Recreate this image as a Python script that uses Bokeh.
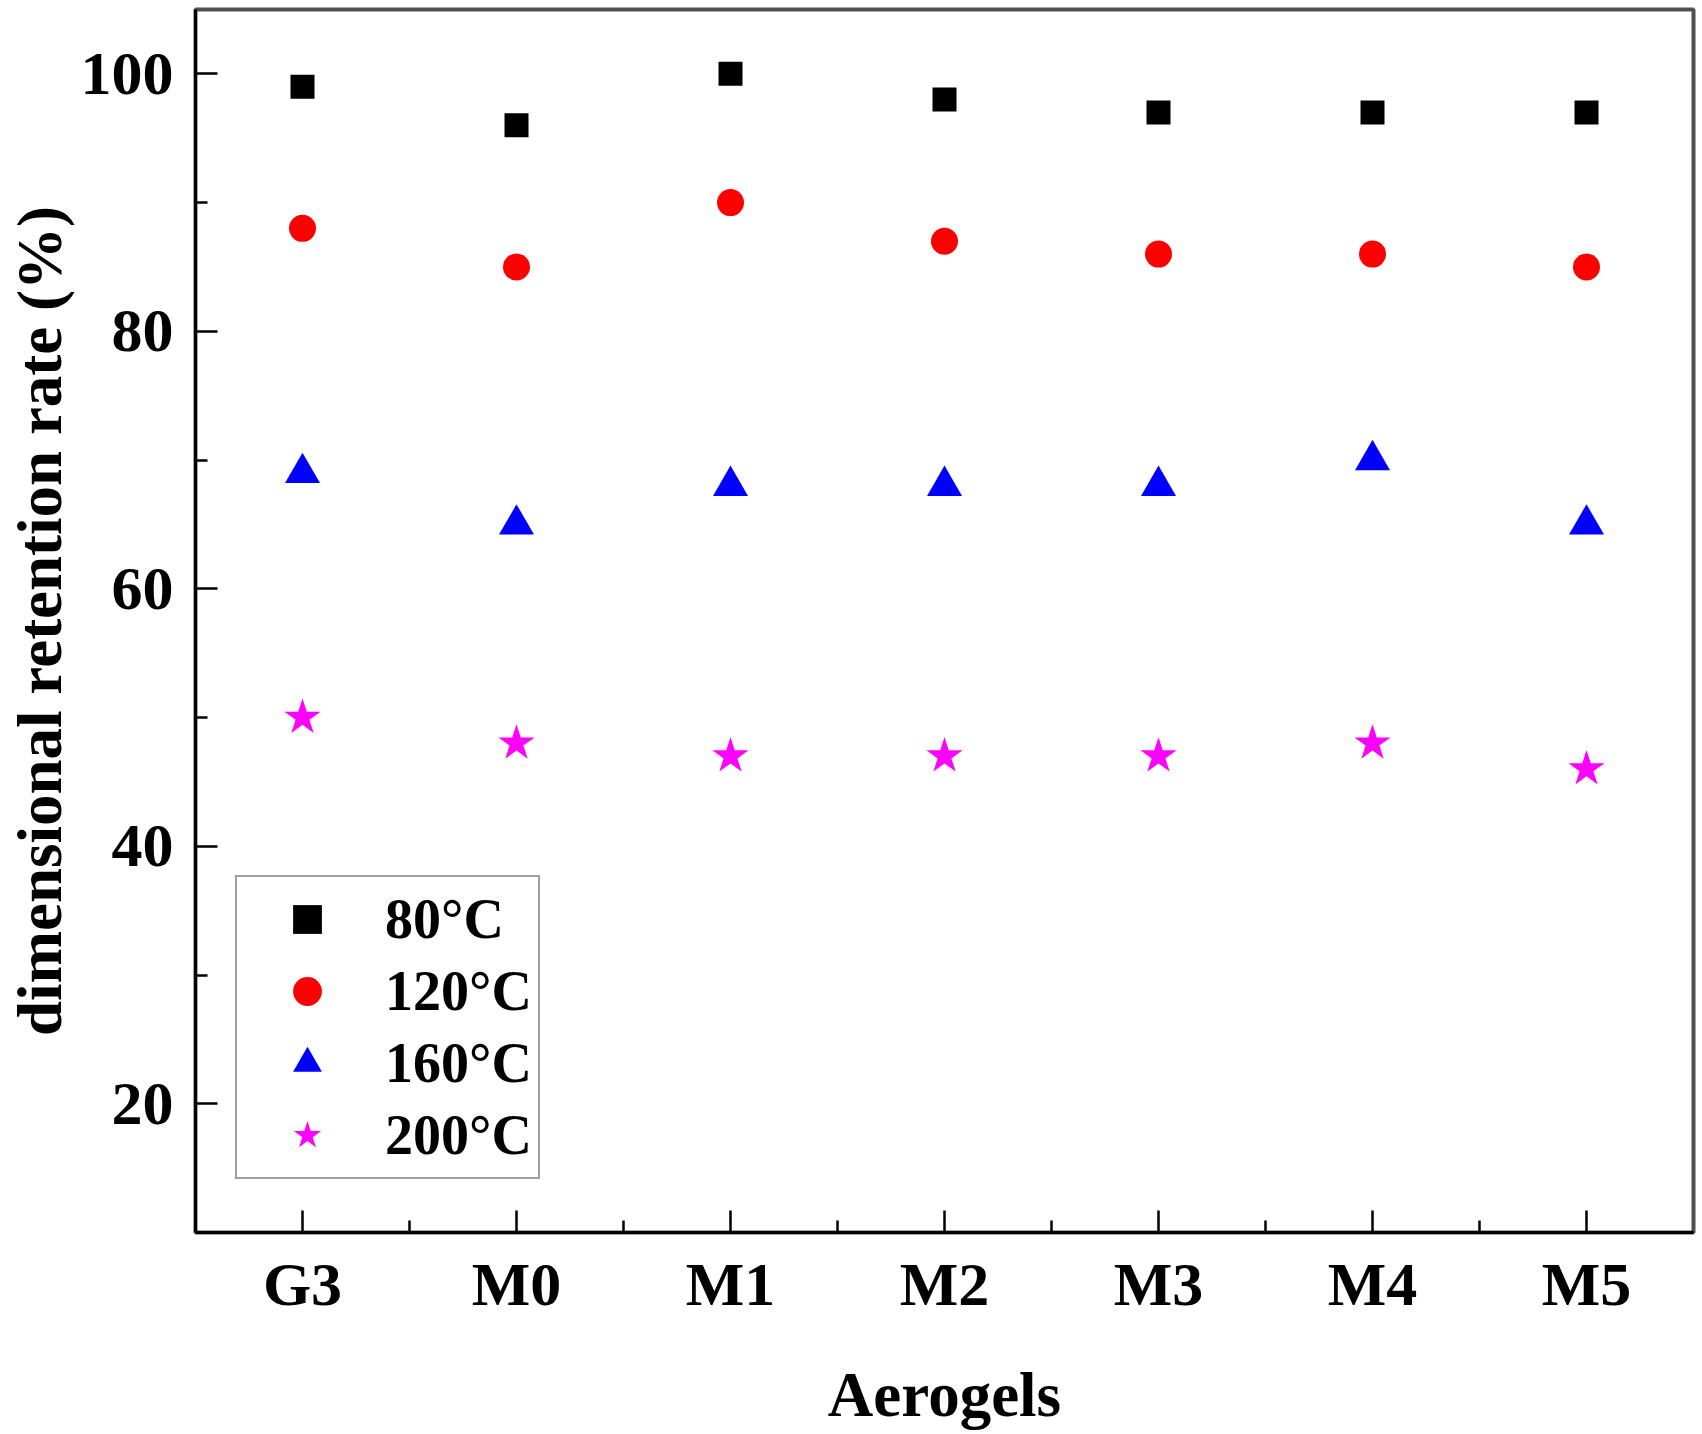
from bokeh.plotting import figure
from bokeh.models import Range1d, FixedTicker, Legend, LegendItem, ColumnDataSource
from bokeh.embed import file_html
from bokeh.resources import INLINE

# ---- data ----
categories = ["G3", "M0", "M1", "M2", "M3", "M4", "M5"]
series_labels = ["80°C", "120°C", "160°C", "200°C"]
t80 = [99, 96, 100, 98, 97, 97, 97]
t120 = [88, 85, 90, 87, 86, 86, 85]
t160 = [69, 65, 68, 68, 68, 70, 65]
t200 = [50, 48, 47, 47, 47, 48, 46]
y_ticks = [20, 40, 60, 80, 100]
y_minor = [30, 50, 70, 90]

FONT = "Liberation Serif"
xpos = list(range(len(categories)))

p = figure(width=1700, height=1432, output_backend="svg", toolbar_location=None,
           x_range=Range1d(-0.5, len(categories) - 0.5), y_range=Range1d(10, 105),
           min_border_left=195, min_border_right=7, min_border_top=9, min_border_bottom=200)
p.xgrid.visible = False
p.ygrid.visible = False
p.background_fill_color = "white"
p.border_fill_color = "white"
p.outline_line_color = "#505050"
p.outline_line_width = 4

styles = [
    ("square", t80, "#000000", 24),
    ("circle", t120, "#ff0000", 27),
    ("triangle", t160, "#0000ff", 35),
    ("star", t200, "#ff00ff", 38),
]
items = []
for (marker, vals, color, size), lab in zip(styles, series_labels):
    src = ColumnDataSource(dict(x=xpos, y=vals))
    r = p.scatter("x", "y", source=src, marker=marker, size=size,
                  fill_color=color, line_color=None)
    items.append(LegendItem(label=lab, renderers=[r]))

# axes
xa = p.xaxis[0]
ya = p.yaxis[0]
xa.ticker = FixedTicker(ticks=xpos, minor_ticks=[i + 0.5 for i in xpos[:-1]])
xa.major_label_overrides = {i: c for i, c in zip(xpos, categories)}
ya.ticker = FixedTicker(ticks=y_ticks, minor_ticks=y_minor)
xa.axis_label = "Aerogels"
ya.axis_label = "dimensional retention rate (%)"
for ax in (xa, ya):
    ax.axis_line_color = "black"
    ax.axis_line_width = 3
    ax.major_tick_in = 22
    ax.major_tick_out = 0
    ax.minor_tick_in = 12
    ax.minor_tick_out = 0
    ax.major_tick_line_width = 2.5
    ax.minor_tick_line_width = 2.5
    ax.major_tick_line_color = "black"
    ax.minor_tick_line_color = "black"
    ax.major_label_text_font = FONT
    ax.major_label_text_font_style = "bold"
    ax.major_label_text_font_size = "62px"
    ax.major_label_text_color = "black"
    ax.axis_label_text_font = FONT
    ax.axis_label_text_font_style = "bold"
    ax.axis_label_text_font_size = "63px"
    ax.axis_label_text_color = "black"
ya.major_label_standoff = 22
ya.axis_label_standoff = 3
xa.major_label_standoff = 17
xa.axis_label_standoff = 39

legend = Legend(items=items, location=(40, 53), margin=0, padding=6,
                glyph_width=128, glyph_height=72, label_height=72,
                label_standoff=14, spacing=0,
                label_text_font=FONT, label_text_font_style="bold",
                label_text_font_size="56px", label_text_color="black",
                border_line_color="#404040", border_line_width=2,
                background_fill_color="white", background_fill_alpha=1.0)
p.add_layout(legend, "center")

open("out.html", "w").write(file_html(p, INLINE))
